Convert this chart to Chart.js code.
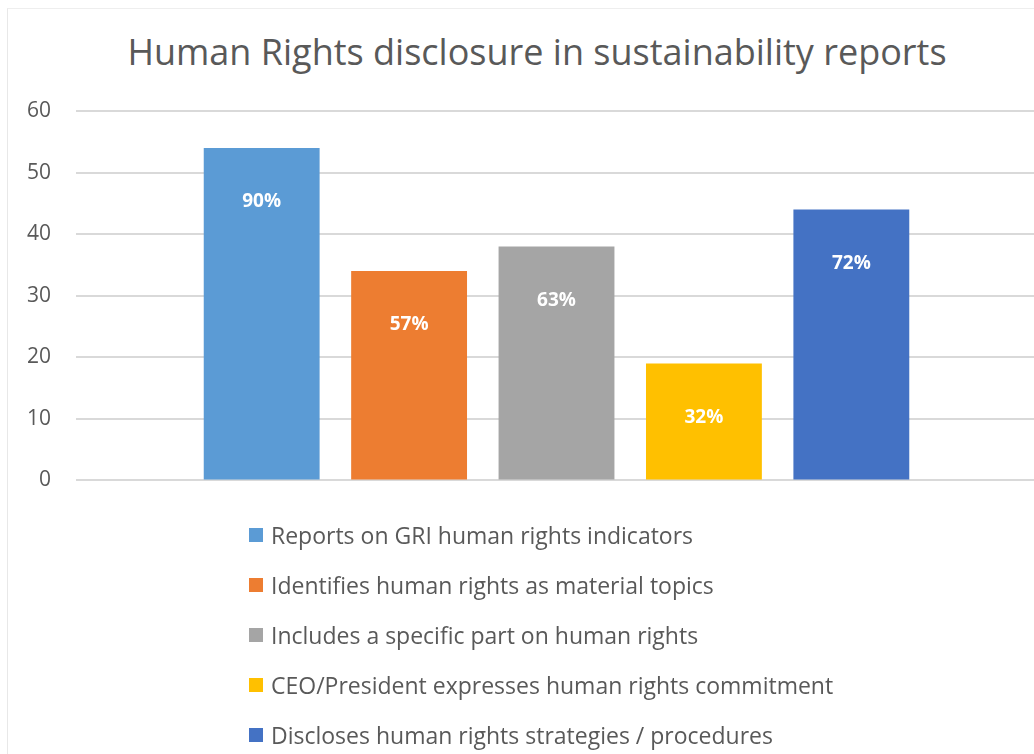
<!DOCTYPE html>
<html>
<head>
<meta charset="utf-8">
<script src="https://cdn.jsdelivr.net/npm/chart.js@4"></script>
<style>
  html, body { margin: 0; padding: 0; background: #fff; overflow: hidden; }
  body { width: 1034px; height: 754px; position: relative; font-family: "Open Sans", sans-serif; }
  #frame { position: absolute; left: 7px; top: 8px; width: 1100px; height: 800px;
           border-left: 1px solid #e8e8e8; border-top: 1px solid #eeeeee; }
  #title { position: absolute; left: 0; width: 1074px; top: 30px; line-height: 43px;
           text-align: center; font-size: 36px; color: #595959; white-space: nowrap; }
  #wrap { position: absolute; left: 0; top: 0; width: 1040px; height: 518px; }
  #legend { position: absolute; left: 249px; top: 510px; }
  .item { height: 50px; display: flex; align-items: center; color: #595959; font-size: 23px; }
  .box { width: 14px; height: 14px; margin-right: 8px; }
</style>
</head>
<body>
<div id="frame"></div>
<div id="title">Human Rights disclosure in sustainability reports</div>
<div id="wrap"><canvas id="barChart" width="1040" height="518"></canvas></div>
<div id="legend"></div>
<script>
const seriesNames = [
    'Reports on GRI human rights indicators',
    'Identifies human rights as material topics',
    'Includes a specific part on human rights',
    'CEO/President expresses human rights commitment',
    'Discloses human rights strategies / procedures',
];
const seriesValues = [54, 34, 38, 19, 44];
const percentLabels = ['90%', '57%', '63%', '32%', '72%'];
const seriesColors = ['#5B9BD5', '#ED7D31', '#A5A5A5', '#FFC000', '#4472C4'];
const yTicks = [0, 10, 20, 30, 40, 50, 60];

// white % labels inside the bars
const insideLabels = {
    id: 'insideLabels',
    afterDatasetsDraw(chart) {
        const ctx = chart.ctx;
        ctx.save();
        ctx.fillStyle = '#ffffff';
        ctx.font = 'bold 19px "Open Sans"';
        ctx.textAlign = 'center';
        ctx.textBaseline = 'middle';
        chart.data.datasets.forEach((ds, i) => {
            const bar = chart.getDatasetMeta(i).data[0];
            ctx.fillText(percentLabels[i], bar.x, bar.y + 54);
        });
        ctx.restore();
    }
};

const ctx = document.getElementById('barChart').getContext('2d');
const barChart = new Chart(ctx, {
    type: 'bar',
    data: {
        labels: [''],
        datasets: seriesNames.map((name, i) => ({
            label: name,
            data: [seriesValues[i]],
            backgroundColor: seriesColors[i],
            borderWidth: 0,
        })),
    },
    options: {
        responsive: false,
        animation: false,
        devicePixelRatio: 1,
        categoryPercentage: 0.767,
        barPercentage: 0.786,
        layout: { padding: { left: 2, right: 3, top: 111, bottom: 10 } },
        plugins: {
            legend: { display: false },
            tooltip: { enabled: false },
            title: { display: false },
        },
        scales: {
            x: { display: false },
            y: {
                min: 0,
                max: 60,
                afterBuildTicks(axis) { axis.ticks = yTicks.map(v => ({ value: v })); },
                border: { display: false },
                grid: { color: '#d9d9d9', lineWidth: 2, drawTicks: false },
                ticks: {
                    color: '#595959',
                    padding: 25,
                    font: { family: 'Open Sans', size: 21 },
                },
            },
        },
    },
    plugins: [insideLabels],
});

let legendHtml = '';
barChart.data.datasets.forEach((ds) => {
    legendHtml += `<div class="item"><span class="box" style="background:${ds.backgroundColor}"></span>${ds.label}</div>`;
});
document.getElementById('legend').innerHTML = legendHtml;
</script>
</body>
</html>
